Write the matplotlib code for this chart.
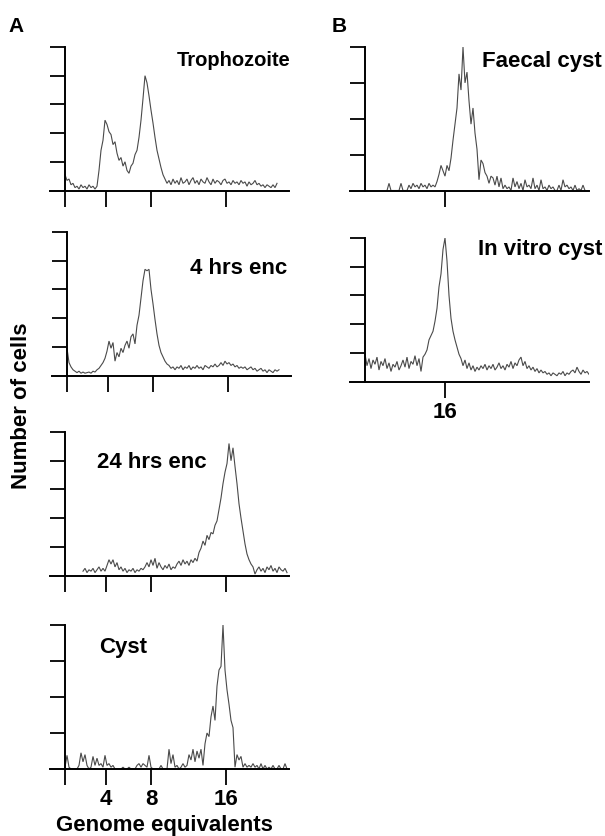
import numpy as np
import matplotlib
matplotlib.use("Agg")
import matplotlib.pyplot as plt

plt.rcParams['font.family'] = ['Liberation Sans', 'DejaVu Sans']
plt.rcParams['font.weight'] = 'bold'

# ---- data: histogram counts (in y-tick units), channels spaced by 2 ----
trophozoite_start = 0
trophozoite = [0.55, 0.35, 0.40, 0.20, 0.25, 0.10, 0.15, 0.05, 0.20, 0.10, 0.15, 0.05, 0.20, 0.10, 0.15, 0.05,
               0.15, 0.70, 1.40, 1.75, 2.45, 2.30, 2.05, 1.95, 1.60, 1.70, 1.30, 1.05, 1.15, 0.85, 1.00, 0.70,
               0.60, 0.85, 0.95, 1.25, 1.40, 1.85, 2.45, 3.20, 4.00, 3.75, 3.30, 2.80, 2.35, 1.85, 1.40, 1.10,
               0.80, 0.55, 0.40, 0.25, 0.35, 0.20, 0.40, 0.25, 0.35, 0.20, 0.45, 0.25, 0.30, 0.40, 0.20, 0.35,
               0.45, 0.25, 0.35, 0.20, 0.40, 0.30, 0.25, 0.45, 0.30, 0.20, 0.40, 0.25, 0.35, 0.30, 0.20, 0.35,
               0.40, 0.25, 0.30, 0.20, 0.35, 0.25, 0.30, 0.20, 0.35, 0.25, 0.30, 0.15, 0.30, 0.20, 0.25, 0.35,
               0.20, 0.25, 0.15, 0.20, 0.10, 0.20, 0.15, 0.10, 0.20, 0.10, 0.25]

enc4_start = 0
enc4 = [0.95, 0.45, 0.30, 0.20, 0.15, 0.10, 0.15, 0.08, 0.12, 0.08, 0.10, 0.12, 0.08, 0.15, 0.12, 0.20,
        0.25, 0.35, 0.45, 0.60, 0.85, 1.20, 0.95, 1.15, 0.50, 0.80, 0.65, 0.95, 0.80, 1.05, 1.20, 0.95,
        1.35, 1.45, 1.10, 1.75, 2.10, 2.70, 3.30, 3.70, 3.65, 3.70, 3.00, 2.50, 1.95, 1.45, 1.05, 0.80,
        0.65, 0.50, 0.40, 0.35, 0.25, 0.30, 0.20, 0.30, 0.25, 0.35, 0.20, 0.30, 0.25, 0.35, 0.20, 0.30,
        0.25, 0.35, 0.25, 0.30, 0.20, 0.35, 0.30, 0.25, 0.35, 0.30, 0.40, 0.30, 0.35, 0.45, 0.35, 0.50,
        0.40, 0.45, 0.35, 0.40, 0.30, 0.35, 0.25, 0.30, 0.25, 0.30, 0.20, 0.25, 0.30, 0.20, 0.25, 0.15,
        0.20, 0.25, 0.15, 0.20, 0.10, 0.20, 0.15, 0.10, 0.20, 0.15, 0.20]

enc24_start = 18
enc24 = [0.15, 0.25, 0.10, 0.20, 0.15, 0.25, 0.10, 0.20, 0.30, 0.15, 0.25, 0.15, 0.35, 0.55, 0.40, 0.55,
         0.30, 0.45, 0.20, 0.30, 0.15, 0.25, 0.10, 0.20, 0.15, 0.25, 0.10, 0.20, 0.15, 0.25, 0.20, 0.30,
         0.45, 0.30, 0.55, 0.35, 0.60, 0.25, 0.45, 0.30, 0.20, 0.35, 0.25, 0.40, 0.20, 0.30, 0.25, 0.40,
         0.50, 0.35, 0.55, 0.40, 0.50, 0.35, 0.55, 0.45, 0.60, 0.50, 0.80, 0.95, 1.20, 1.05, 1.40, 1.25,
         1.50, 1.45, 1.75, 1.90, 2.30, 2.70, 3.20, 3.60, 3.90, 4.60, 4.00, 4.45, 3.80, 3.20, 2.50, 2.00,
         1.55, 1.10, 0.75, 0.55, 0.40, 0.30, 0.05, 0.20, 0.30, 0.15, 0.25, 0.10, 0.30, 0.20, 0.35, 0.15,
         0.25, 0.10, 0.30, 0.20, 0.15, 0.25, 0.10]

cyst_start = 0
cyst = [0.05, 0.38, 0.05, 0.00, 0.00, 0.00, 0.00, 0.10, 0.45, 0.20, 0.40, 0.10, 0.00, 0.05, 0.35, 0.10,
        0.30, 0.10, 0.15, 0.05, 0.38, 0.10, 0.15, 0.05, 0.10, 0.00, 0.00, 0.00, 0.00, 0.05, 0.00, 0.00,
        0.05, 0.00, 0.00, 0.00, 0.10, 0.15, 0.05, 0.15, 0.10, 0.05, 0.38, 0.05, 0.00, 0.00, 0.00, 0.00,
        0.10, 0.00, 0.00, 0.00, 0.55, 0.15, 0.40, 0.05, 0.10, 0.00, 0.05, 0.15, 0.05, 0.10, 0.40, 0.25,
        0.55, 0.20, 0.50, 0.30, 0.55, 0.10, 0.70, 1.00, 0.90, 1.45, 1.75, 1.35, 2.30, 2.75, 2.85, 4.00,
        2.75, 2.20, 1.80, 1.35, 1.15, 0.05, 0.40, 0.25, 0.35, 0.05, 0.15, 0.05, 0.10, 0.05, 0.15, 0.05,
        0.10, 0.00, 0.15, 0.00, 0.10, 0.00, 0.05, 0.00, 0.10, 0.00, 0.00, 0.10, 0.00, 0.00, 0.15, 0.00]

faecal_start = 22
faecal = [0.00, 0.20, 0.00, 0.00, 0.00, 0.00, 0.00, 0.20, 0.00, 0.00, 0.00, 0.15, 0.05, 0.20, 0.10, 0.15,
          0.05, 0.20, 0.10, 0.15, 0.05, 0.20, 0.10, 0.15, 0.10, 0.25, 0.45, 0.70, 0.55, 0.40, 0.70, 0.55,
          0.90, 1.40, 1.85, 2.30, 3.25, 2.80, 4.00, 3.00, 3.30, 2.50, 1.85, 2.30, 1.60, 1.15, 0.30, 0.85,
          0.75, 0.50, 0.40, 0.20, 0.40, 0.35, 0.15, 0.40, 0.10, 0.35, 0.05, 0.15, 0.05, 0.10, 0.00, 0.35,
          0.10, 0.25, 0.05, 0.20, 0.00, 0.30, 0.10, 0.15, 0.05, 0.35, 0.05, 0.15, 0.00, 0.30, 0.05, 0.10,
          0.00, 0.15, 0.05, 0.10, 0.00, 0.00, 0.15, 0.00, 0.30, 0.10, 0.15, 0.05, 0.10, 0.00, 0.15, 0.00,
          0.05, 0.00, 0.15, 0.00]

invitro_start = 0
invitro = [0.95, 0.55, 0.80, 0.45, 0.75, 0.60, 0.85, 0.40, 0.70, 0.55, 0.80, 0.45, 0.65, 0.35, 0.60, 0.50,
           0.70, 0.40, 0.55, 0.75, 0.50, 0.85, 0.45, 0.70, 0.60, 0.90, 0.55, 0.80, 0.35, 0.85, 0.95, 1.10,
           1.45, 1.60, 1.75, 2.10, 2.55, 3.30, 3.75, 4.60, 5.00, 4.20, 3.00, 2.20, 1.75, 1.45, 1.20, 0.95,
           0.80, 0.55, 0.75, 0.45, 0.65, 0.40, 0.55, 0.35, 0.50, 0.40, 0.55, 0.45, 0.60, 0.40, 0.55, 0.45,
           0.60, 0.40, 0.50, 0.65, 0.45, 0.55, 0.40, 0.60, 0.50, 0.70, 0.45, 0.65, 0.55, 0.75, 0.85, 0.55,
           0.70, 0.45, 0.55, 0.40, 0.50, 0.35, 0.45, 0.30, 0.40, 0.30, 0.35, 0.25, 0.30, 0.20, 0.30, 0.25,
           0.20, 0.30, 0.25, 0.35, 0.20, 0.30, 0.25, 0.35, 0.40, 0.30, 0.50, 0.35, 0.25, 0.40, 0.30, 0.35,
           0.25]

titles = ["Trophozoite", "4 hrs enc", "24 hrs enc", "Cyst", "Faecal cyst", "In vitro cyst"]
a_tick_pos = [0, 41, 86, 161]
a_tick_labels = ["", "4", "8", "16"]
b_tick_pos = [80]
b_tick_labels = ["16"]

W, H = 605, 836
fig = plt.figure(figsize=(W / 100, H / 100), dpi=100)

def px_rect(left, baseline, top, width=239):
    return [left / W, 1 - baseline / H, width / W, (baseline - top) / H]

panels = [
    # (data, start, left, baseline, top, nticks, title, title_x, title_y, title_size, xticks, labels, showlabels)
    (trophozoite, trophozoite_start, 50, 190.5, 47, 5, titles[0], 177, 61, 14.5, a_tick_pos, a_tick_labels, False),
    (enc4, enc4_start, 52, 375.5, 232, 5, titles[1], 190, 268, 16, a_tick_pos, a_tick_labels, False),
    (enc24, enc24_start, 50, 575.5, 432, 5, titles[2], 97, 462, 16, a_tick_pos, a_tick_labels, False),
    (cyst, cyst_start, 50, 769, 625, 4, titles[3], 99, 648, 16, a_tick_pos, a_tick_labels, True),
    (faecal, faecal_start, 350, 190.5, 47, 4, titles[4], 482, 62, 16, b_tick_pos, b_tick_labels, False),
    (invitro, invitro_start, 350, 381.5, 238, 5, titles[5], 478, 249, 16, b_tick_pos, b_tick_labels, True),
]

for data, start, left, base, top, nt, title, tx, ty, tsz, xt, xl, showl in panels:
    ax = fig.add_axes(px_rect(left, base, top))
    xs = start + 2 * np.arange(len(data))
    ax.plot(xs, data, color='#4a4a4a', lw=0.8, solid_joinstyle='miter')
    ax.set_xlim(-15, 224)
    ax.set_ylim(0, nt)
    for s in ['top', 'right']:
        ax.spines[s].set_visible(False)
    ax.spines['left'].set_position(('data', 0))
    ax.spines['left'].set_linewidth(1.4)
    ax.spines['bottom'].set_linewidth(1.4)
    ax.set_yticks(range(1, nt + 1))
    ax.set_yticklabels([])
    ax.tick_params(axis='y', direction='out', length=11, width=1.3)
    ax.set_xticks(xt)
    ax.set_xticklabels(xl if showl else [''] * len(xt), fontsize=16, fontweight='bold')
    ax.tick_params(axis='x', direction='out', length=11.5, width=1.3, pad=3)
    ax.patch.set_visible(False)
    fig.text(tx / W, 1 - ty / H, title, ha='left', va='center', fontsize=tsz, fontweight='bold')

fig.text(16 / W, 1 - 27 / H, "A", ha='center', va='center', fontsize=15, fontweight='bold')
fig.text(339 / W, 1 - 27 / H, "B", ha='center', va='center', fontsize=15, fontweight='bold')
fig.text(22 / W, 1 - 406 / H, "Number of cells", rotation=90, ha='center', va='center',
         fontsize=16, fontweight='bold')
fig.text(164 / W, 1 - 826 / H, "Genome equivalents", ha='center', va='center',
         fontsize=16, fontweight='bold')

fig.savefig("out.png", dpi=100, facecolor='white')
